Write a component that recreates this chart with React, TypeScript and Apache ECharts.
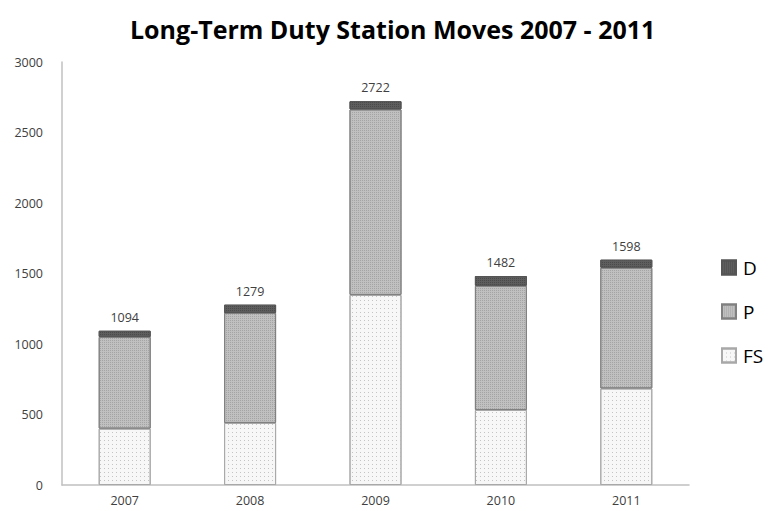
import React, { useEffect, useRef } from "react";
import * as echarts from "echarts";

const years = ["2007", "2008", "2009", "2010", "2011"];
const fsValues = [400, 440, 1348, 532, 685];
const pValues = [650, 780, 1316, 881, 856];
const dValues = [44, 59, 58, 69, 57];
const totals = [1094, 1279, 2722, 1482, 1598];
const yTicks = [0, 500, 1000, 1500, 2000, 2500, 3000];

export default function App() {
  const ref = useRef<HTMLDivElement>(null);
  useEffect(() => {
    if (!ref.current) return;
    const chart = echarts.init(ref.current, undefined, { renderer: "svg" });
    const font = "'Open Sans', 'Liberation Sans', sans-serif";
    chart.setOption({
      animation: false,
      backgroundColor: "#ffffff",
      title: {
        text: "Long-Term Duty Station Moves 2007 - 2011",
        left: 125,
        top: 11,
        textStyle: { fontFamily: font, fontSize: 25, fontWeight: "bold", color: "#000" },
      },
      legend: {
        orient: "vertical",
        left: 716,
        top: 253,
        icon: "rect",
        itemWidth: 14,
        itemHeight: 14,
        itemGap: 25,
        data: ["D", "P", "FS"],
        textStyle: { fontFamily: font, fontSize: 19, color: "#000", padding: [0, 0, 0, 2] },
      },
      grid: { left: 62, right: 79, top: 62, bottom: 26, containLabel: false },
      xAxis: {
        type: "category",
        data: years,
        axisLine: { lineStyle: { color: "#c0c0c0", width: 1.5 } },
        axisTick: { show: false },
        axisLabel: { fontFamily: font, fontSize: 12.5, color: "#404040", margin: 9 },
      },
      yAxis: {
        type: "value",
        min: 0,
        max: 3000,
        interval: 500,
        axisLine: { show: true, lineStyle: { color: "#c0c0c0", width: 1.5 } },
        axisTick: { show: false },
        splitLine: { show: false },
        axisLabel: {
          fontFamily: font,
          fontSize: 12.5,
          color: "#404040",
          margin: 19,
          formatter: (v: number) => (yTicks.includes(v) ? String(v) : ""),
        },
      },
      series: [
        {
          name: "FS",
          type: "bar",
          stack: "t",
          barWidth: 52,
          data: fsValues,
          itemStyle: {
            color: "#f7f7f7",
            borderColor: "#a8a8a8",
            borderWidth: 1,
            decal: { symbol: "rect", symbolSize: 1, dashArrayX: [1, 3], dashArrayY: [1, 3], color: "#c4c4c4" },
          },
        },
        {
          name: "P",
          type: "bar",
          stack: "t",
          data: pValues,
          itemStyle: {
            color: "#c0c0c0",
            borderColor: "#808080",
            borderWidth: 1,
            decal: { symbol: "rect", symbolSize: 1, dashArrayX: [1, 1], dashArrayY: [1, 1], color: "#a4a4a4" },
          },
        },
        {
          name: "D",
          type: "bar",
          stack: "t",
          data: dValues,
          itemStyle: {
            color: "#5e5e5e",
            borderColor: "#555",
            borderWidth: 1,
            decal: { symbol: "rect", symbolSize: 1, dashArrayX: [1, 1], dashArrayY: [1, 1], color: "#4a4a4a" },
          },
          label: {
            show: true,
            position: "top",
            distance: 7,
            fontFamily: font,
            fontSize: 12.5,
            color: "#404040",
            formatter: (p: any) => String(totals[p.dataIndex]),
          },
        },
      ],
    });
    return () => chart.dispose();
  }, []);
  return <div ref={ref} style={{ width: 768, height: 511, position: "absolute", left: 0, top: 0 }} />;
}
